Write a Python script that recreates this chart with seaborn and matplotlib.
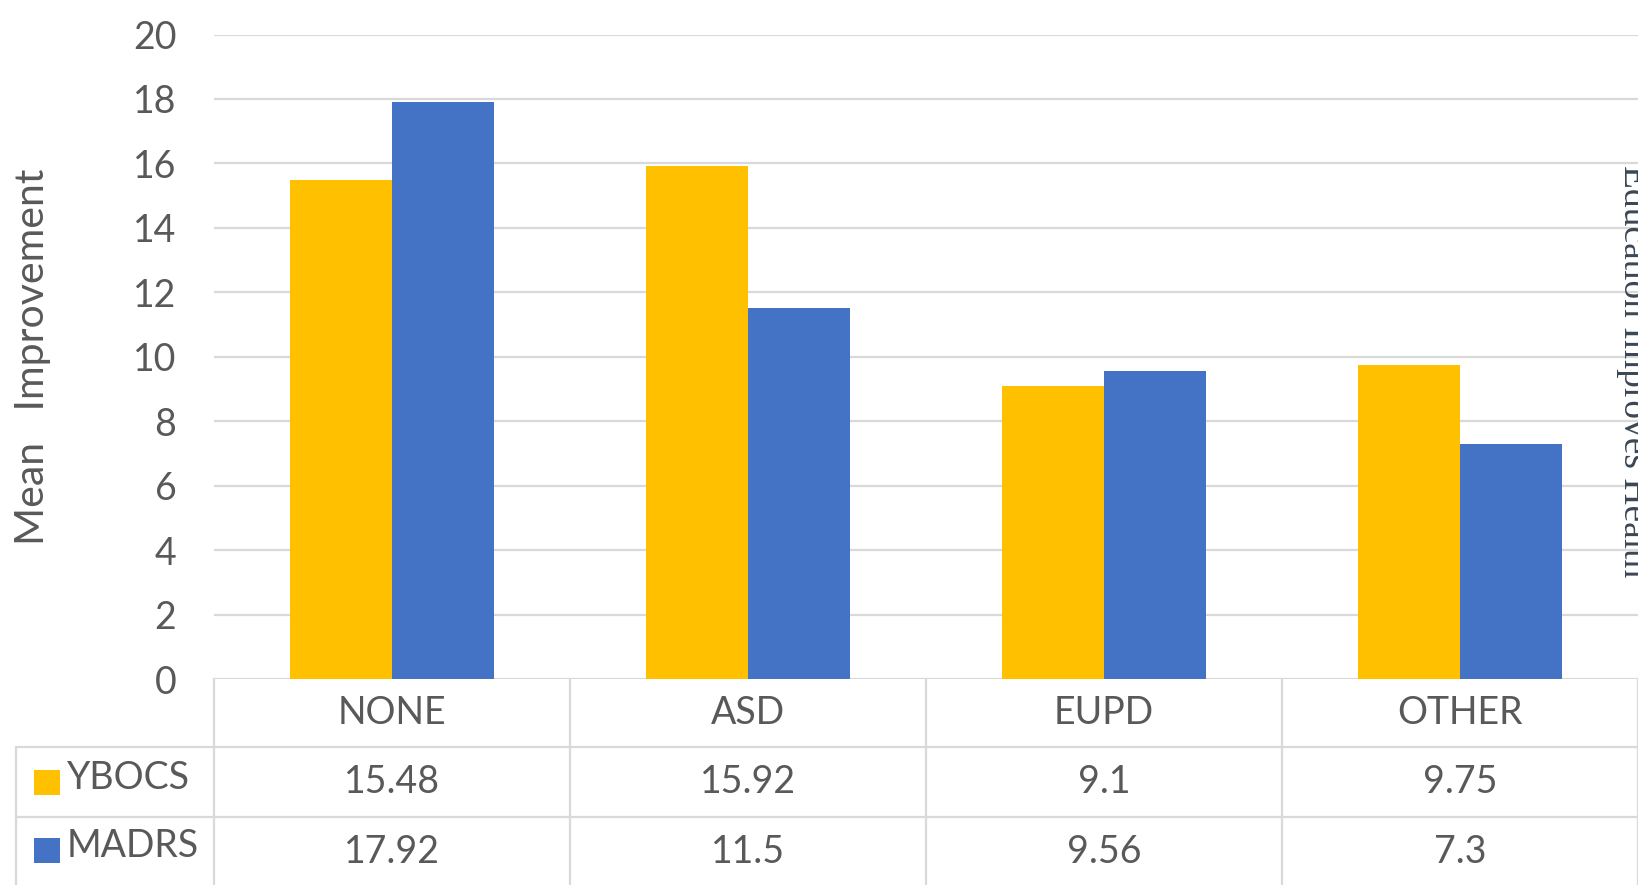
import matplotlib
matplotlib.use("Agg")
import matplotlib.pyplot as plt
import matplotlib.transforms as mtransforms
from matplotlib.patches import Rectangle
from matplotlib.lines import Line2D
import seaborn as sns
import pandas as pd

categories = ["NONE", "ASD", "EUPD", "OTHER"]
series_names = ["YBOCS", "MADRS"]
ybocs = [15.48, 15.92, 9.1, 9.75]
madrs = [17.92, 11.5, 9.56, 7.3]
ybocs_labels = ["15.48", "15.92", "9.1", "9.75"]
madrs_labels = ["17.92", "11.5", "9.56", "7.3"]
yticks = [0, 2, 4, 6, 8, 10, 12, 14, 16, 18, 20]
colors = ["#FFC000", "#4472C4"]
text_color = "#595959"
grid_color = "#D9D9D9"

sns.set_theme(style="white")
plt.rcParams['font.family'] = ['Lato', 'DejaVu Sans']

W, H = 1638, 885
fig = plt.figure(figsize=(W / 100, H / 100), dpi=100)
ax_left, ax_right = 214, 1638
ax_top, ax_bottom = 34.5, 679
ax = fig.add_axes([ax_left / W, (H - ax_bottom) / H, (ax_right - ax_left) / W, (ax_bottom - ax_top) / H])

df = pd.DataFrame({
    "category": categories * 2,
    "series": [series_names[0]] * 4 + [series_names[1]] * 4,
    "value": ybocs + madrs,
})
sns.barplot(data=df, x="category", y="value", hue="series", order=categories,
            hue_order=series_names, palette=colors, saturation=1, width=0.575,
            linewidth=0, legend=False, ax=ax, zorder=2)

ax.set_xlim(-0.5, len(categories) - 0.5)
ax.set_ylim(0, 20)
ax.set_yticks(yticks)
ax.set_yticklabels([str(v) for v in yticks])
ax.tick_params(axis="y", length=0, pad=27, labelsize=27, labelcolor=text_color)
ax.set_xticks([])
ax.set_xlabel("")
ax.set_ylabel("")
for s in ax.spines.values():
    s.set_visible(False)
ax.set_axisbelow(True)
ax.yaxis.grid(True, color=grid_color, linewidth=1.6)
ax.patch.set_alpha(0)

fig.text(33 / W, (H - 357) / H, "Mean   Improvement", rotation=90, ha="center", va="center",
         fontsize=29.5, color=text_color)

# Data table below the axes
ax_h = ax_bottom - ax_top
def yfrac(py):
    return (ax_bottom - py) / ax_h

trans = mtransforms.blended_transform_factory(ax.transData, ax.transAxes)
row_bounds = [679, 747, 817, 885]
n = len(categories)
lw = 1.6
for i in range(n + 1):
    x = i - 0.5
    ax.add_line(Line2D([x, x], [yfrac(679), yfrac(890)], transform=trans, color=grid_color,
                       lw=lw, clip_on=False))
for py in row_bounds[1:3]:
    fig.add_artist(Line2D([16 / W, 1.0], [(H - py) / H] * 2, color=grid_color, lw=lw))
fig.add_artist(Line2D([16 / W, 16 / W], [(H - 747) / H, 0], color=grid_color, lw=lw))

fs = 27
row_y = [713, 782, 852]
for i, cat in enumerate(categories):
    ax.text(i, yfrac(row_y[0]), cat, transform=trans, ha="center", va="center",
            fontsize=fs, color=text_color, clip_on=False)
    ax.text(i, yfrac(row_y[1]), ybocs_labels[i], transform=trans, ha="center", va="center",
            fontsize=fs, color=text_color, clip_on=False)
    ax.text(i, yfrac(row_y[2]), madrs_labels[i], transform=trans, ha="center", va="center",
            fontsize=fs, color=text_color, clip_on=False)

for name, col, py in zip(series_names, colors, [782, 850]):
    fig.add_artist(Rectangle((34 / W, (H - py - 12.5) / H), 26 / W, 25 / H,
                             transform=fig.transFigure, facecolor=col, edgecolor="none"))
    fig.text(67 / W, (H - py + 4) / H, name, ha="left", va="center", fontsize=fs,
             color=text_color)

# cut-off side text
fig.text(1616 / W, (H - 371) / H, "Education Improves Health", rotation=270,
         ha="left", va="center", fontsize=27, family="Liberation Serif", color="#3b4656")

fig.savefig("out.png", dpi=100)
